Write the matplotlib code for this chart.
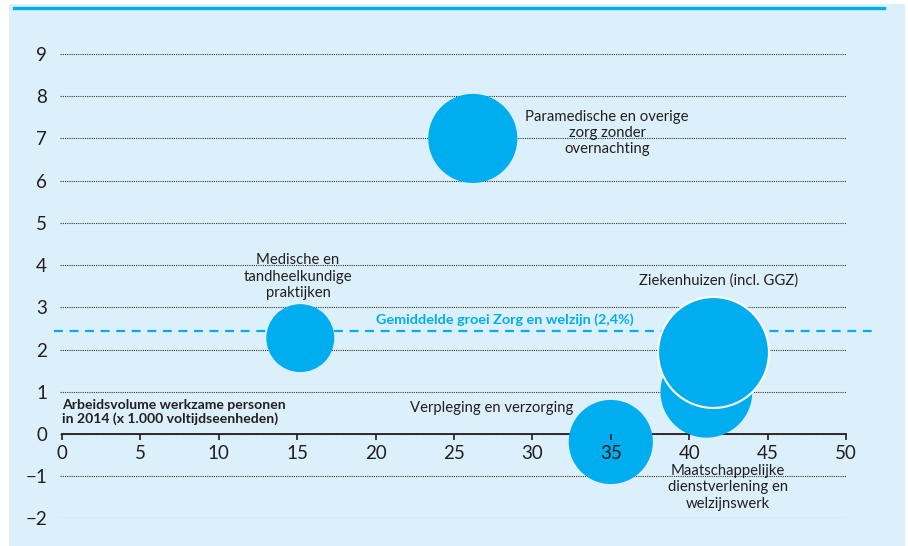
import matplotlib
matplotlib.use("Agg")
import matplotlib.pyplot as plt
from matplotlib.patches import Rectangle
from matplotlib.lines import Line2D

plt.rcParams['font.family'] = ['Lato', 'DejaVu Sans']

# Data
categories = ["Paramedische en overige\nzorg zonder\novernachting",
              "Medische en\ntandheelkundige\npraktijken",
              "Verpleging en verzorging",
              "Maatschappelijke\ndienstverlening en\nwelzijnswerk",
              "Ziekenhuizen (incl. GGZ)"]
x_vals = [26.2, 15.2, 35.0, 41.1, 41.55]
y_vals = [7.0, 2.27, -0.19, 1.0, 1.94]
volume = [129, 75, 115, 137, 200]
avg_growth = 2.45
x_ticks = [0, 5, 10, 15, 20, 25, 30, 35, 40, 45, 50]
y_ticks = [-2, -1, 0, 1, 2, 3, 4, 5, 6, 7, 8, 9]
y_ticklabels = ["\u22122", "\u22121", "0", "1", "2", "3", "4", "5", "6", "7", "8", "9"]

BG = "#dcf0fb"
CYAN = "#00aeef"
TXT = "#231f20"

fig = plt.figure(figsize=(9.08, 5.46), dpi=100)
fig.patch.set_facecolor("white")
W, H = 908, 546
fig.add_artist(Rectangle((9 / W, 0), (905 - 9) / W, (546 - 4) / H,
                         transform=fig.transFigure, facecolor=BG, edgecolor="none", zorder=-10))
fig.add_artist(Line2D([14 / W, 884 / W], [1 - 7.5 / H, 1 - 7.5 / H], transform=fig.transFigure,
                      color=CYAN, lw=2.4))

ax = fig.add_axes([59.6 / W, 1 - 518.4 / H, (846 - 59.6) / W, (518.4 - 54) / H])
ax.set_facecolor("none")
ax.set_xlim(-0.15, 50)
ax.set_ylim(-2, 9)

for s in ["top", "right", "left"]:
    ax.spines[s].set_visible(False)
ax.spines["bottom"].set_position(("data", 0))
ax.spines["bottom"].set_bounds(0, 50)
ax.spines["bottom"].set_linewidth(1.3)
ax.spines["bottom"].set_color(TXT)
ax.spines["bottom"].set_zorder(2.5)

ax.set_xticks(x_ticks)
ax.set_yticks(y_ticks)
ax.set_yticklabels(y_ticklabels)
ax.tick_params(axis="x", direction="out", length=4, width=1.2, color=TXT,
               labelsize=13.5, pad=4, labelcolor=TXT)
ax.tick_params(axis="y", length=0, labelsize=13.5, pad=9, labelcolor=TXT)
ax.yaxis.grid(True, linestyle=(0, (1, 1)), color="#333333", linewidth=0.8)
ax.xaxis.grid(False)
ax.yaxis.set_zorder(0.5)
ax.xaxis.set_zorder(4)

# bubbles
k = 31.9
sizes = [v * k for v in volume]
for i in range(4):
    ax.scatter([x_vals[i]], [y_vals[i]], s=sizes[i], color=CYAN, edgecolors="none", zorder=3)
ax.scatter([x_vals[4]], [y_vals[4]], s=sizes[4], color=CYAN, edgecolors="white",
           linewidths=1.5, zorder=3.2)

# average line
ax.plot([-0.5, 51.8], [avg_growth, avg_growth], linestyle=(0, (4, 3)), color=CYAN,
        lw=1.6, clip_on=False, zorder=2)
ax.text(28.25, 2.70, "Gemiddelde groei Zorg en welzijn (2,4%)", color=CYAN,
        fontsize=10.4, fontweight="bold", ha="center", va="center", zorder=5)

# labels
fs = 10.7
ax.text(34.76, 7.13, categories[0], ha="center", va="center", fontsize=fs, color=TXT,
        linespacing=1.22, zorder=5)
ax.text(15.05, 3.72, categories[1], ha="center", va="center", fontsize=fs, color=TXT,
        linespacing=1.22, zorder=5)
ax.text(32.6, 0.62, categories[2], ha="right", va="center", fontsize=fs, color=TXT, zorder=5)
ax.text(42.45, -1.26, categories[3], ha="center", va="center", fontsize=fs, color=TXT,
        linespacing=1.22, zorder=5)
ax.text(41.9, 3.63, categories[4], ha="center", va="center", fontsize=fs, color=TXT, zorder=5)

ax.text(0, 0.52, "Arbeidsvolume werkzame personen\nin 2014 (x 1.000 voltijdseenheden)",
        ha="left", va="center", fontsize=10.1, fontweight="bold", color=TXT,
        linespacing=1.1, zorder=5)

fig.savefig("out.png", dpi=100, facecolor=fig.get_facecolor())
